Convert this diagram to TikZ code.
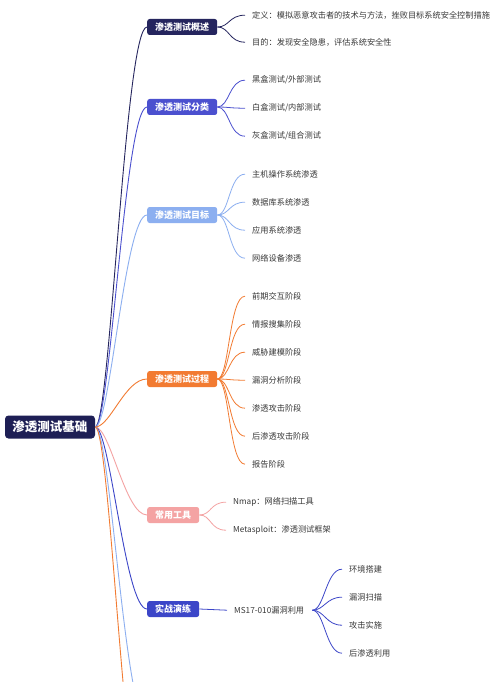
\documentclass[tikz,border=0pt]{standalone}
\usepackage{fontspec}
\setmainfont{Noto Sans CJK SC}
\definecolor{cRoot}{HTML}{1E1F55}
\definecolor{cA}{HTML}{25255E}
\definecolor{cB}{HTML}{4B50CF}
\definecolor{cC}{HTML}{8CAFF0}
\definecolor{cD}{HTML}{F27B32}
\definecolor{cE}{HTML}{F4A3A3}
\definecolor{cF}{HTML}{3C46C8}
\definecolor{cText}{HTML}{383838}
\begin{document}
\begin{tikzpicture}[x=1pt,y=-1pt,
  rootbox/.style={fill=cRoot, rounded corners=3.5pt, text=white, font=\fontsize{12.5}{14}\selectfont\bfseries, inner xsep=7.5pt, inner ysep=0pt, minimum height=23pt},
  lonebox/.style={rounded corners=2.5pt, text=white, font=\fontsize{9}{11}\selectfont\bfseries, inner xsep=8pt, inner ysep=0pt, minimum height=16pt, anchor=west},
  leaf/.style={text=cText, font=\fontsize{8.2}{10}\selectfont, inner sep=0pt, anchor=west, yshift=-1.2pt},
  link/.style={line width=0.9pt},
  sublink/.style={line width=0.8pt},
]
\useasboundingbox (0,0) rectangle (500,682);
\clip (0,0) rectangle (500,682);
\fill[white] (0,0) rectangle (500,682);

% root
\node[rootbox] (root) at (50,427) {渗透测试基础};

% level 1
\node[lonebox, fill=cA] (A) at (147,27) {渗透测试概述};
\node[lonebox, fill=cB] (B) at (147,107) {渗透测试分类};
\node[lonebox, fill=cC] (C) at (147,215) {渗透测试目标};
\node[lonebox, fill=cD] (D) at (147,379) {渗透测试过程};
\node[lonebox, fill=cE] (E) at (147,515) {常用工具};
\node[lonebox, fill=cF] (F) at (147,609) {实战演练};
\coordinate (G) at (147,722);
\coordinate (H) at (147,830);

% root connectors
\draw[link, cA] (root.east) .. controls +(15,0) and +(-22,0) .. (A.west);
\draw[link, cB] (root.east) .. controls +(15,0) and +(-22,0) .. (B.west);
\draw[link, cC] (root.east) .. controls +(15,0) and +(-22,0) .. (C.west);
\draw[link, cD] (root.east) .. controls +(15,0) and +(-22,0) .. (D.west);
\draw[link, cE] (root.east) .. controls +(15,0) and +(-22,0) .. (E.west);
\draw[link, cF] (root.east) .. controls +(15,0) and +(-22,0) .. (F.west);
\draw[link, cC] (root.east) .. controls +(15,0) and +(-22,0) .. (G);
\draw[link, cD] (root.east) .. controls +(15,0) and +(-22,0) .. (H);

% A children
\node[leaf] (A1) at (252,14) {定义：模拟恶意攻击者的技术与方法，挫败目标系统安全控制措施};
\node[leaf] (A2) at (252,41) {目的：发现安全隐患，评估系统安全性};
\foreach \c in {A1,A2}
  \draw[sublink, cA] (A.east) .. controls +(12,0) and +(-16,0) .. ([xshift=-7pt]\c.west);

% B children
\node[leaf] (B1) at (252,79) {黑盒测试/外部测试};
\node[leaf] (B2) at (252,107) {白盒测试/内部测试};
\node[leaf] (B3) at (252,135) {灰盒测试/组合测试};
\foreach \c in {B1,B2,B3}
  \draw[sublink, cB] (B.east) .. controls +(12,0) and +(-16,0) .. ([xshift=-7pt]\c.west);

% C children
\node[leaf] (C1) at (252,173) {主机操作系统渗透};
\node[leaf] (C2) at (252,201) {数据库系统渗透};
\node[leaf] (C3) at (252,229) {应用系统渗透};
\node[leaf] (C4) at (252,257) {网络设备渗透};
\foreach \c in {C1,C2,C3,C4}
  \draw[sublink, cC] (C.east) .. controls +(12,0) and +(-16,0) .. ([xshift=-7pt]\c.west);

% D children
\node[leaf] (D1) at (252,295) {前期交互阶段};
\node[leaf] (D2) at (252,323) {情报搜集阶段};
\node[leaf] (D3) at (252,351) {威胁建模阶段};
\node[leaf] (D4) at (252,379) {漏洞分析阶段};
\node[leaf] (D5) at (252,407) {渗透攻击阶段};
\node[leaf] (D6) at (252,435) {后渗透攻击阶段};
\node[leaf] (D7) at (252,463) {报告阶段};
\foreach \c in {D1,D2,D3,D4,D5,D6,D7}
  \draw[sublink, cD] (D.east) .. controls +(12,0) and +(-16,0) .. ([xshift=-7pt]\c.west);

% E children
\node[leaf] (E1) at (233,501) {Nmap：网络扫描工具};
\node[leaf] (E2) at (233,529) {Metasploit：渗透测试框架};
\foreach \c in {E1,E2}
  \draw[sublink, cE] (E.east) .. controls +(12,0) and +(-16,0) .. ([xshift=-7pt]\c.west);

% F children
\node[leaf] (F1) at (234,609) {MS17-010漏洞利用};
\draw[sublink, cF] (F.east) -- ([xshift=-7pt]F1.west);
\node[leaf] (F11) at (349,568) {环境搭建};
\node[leaf] (F12) at (349,596) {漏洞扫描};
\node[leaf] (F13) at (349,624) {攻击实施};
\node[leaf] (F14) at (349,652) {后渗透利用};
\foreach \c in {F11,F12,F13,F14}
  \draw[sublink, cF] ([xshift=8pt]F1.east) .. controls +(12,0) and +(-16,0) .. ([xshift=-7pt]\c.west);
\end{tikzpicture}
\end{document}
